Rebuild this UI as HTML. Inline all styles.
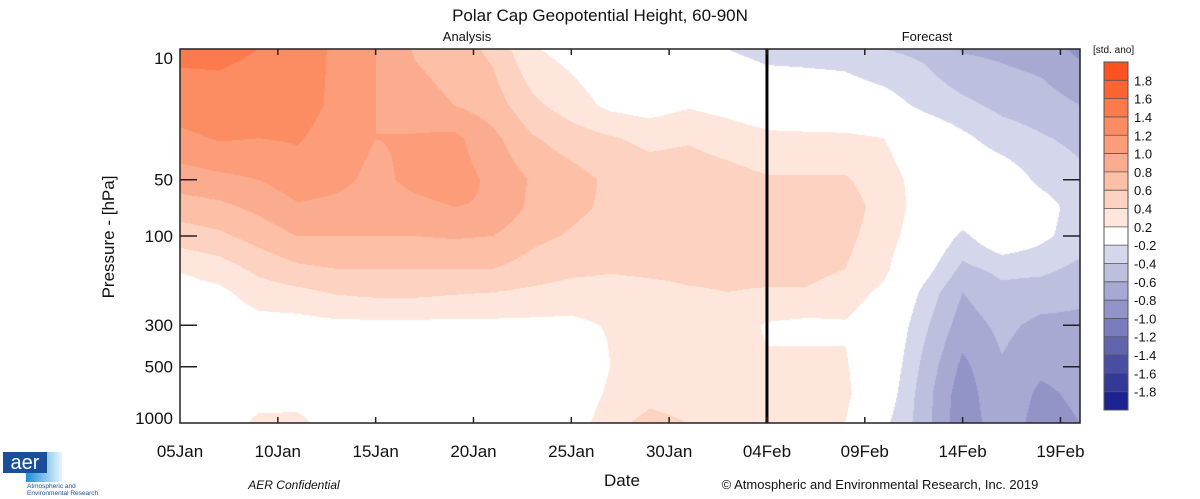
<!DOCTYPE html>
<html><head><meta charset="utf-8">
<style>
body{margin:0;background:#fff;width:1200px;height:499px;overflow:hidden;font-family:"Liberation Sans",sans-serif;}
svg text{font-family:"Liberation Sans",sans-serif;}
</style></head>
<body>
<div style="position:relative;width:1200px;height:499px;">
<canvas id="cv" width="900" height="374" style="position:absolute;left:180px;top:49px;"></canvas>
<svg id="sv" width="1200" height="499" style="position:absolute;left:0;top:0;"></svg>
</div>
<script>
const days=[0,2,4,6,8,10,12,14,16,18,20,22,24,26,28,30,32,34,36,38,40,42,44,46];
const levels=[10,20,30,50,70,100,150,200,300,500,700,1000];
// values[row=level][col=day]
const values=[
[1.45,1.45,1.4,1.35,1.15,1.0,0.78,0.7,0.55,0.22,0.12,0.02,-0.02,-0.05,-0.2,-0.3,-0.3,-0.3,-0.4,-0.45,-0.62,-0.65,-0.7,-0.85],
[1.3,1.32,1.3,1.3,1.15,1.0,0.88,0.8,0.7,0.45,0.3,0.15,0.1,0.18,0.12,0.05,0.0,-0.05,-0.1,-0.25,-0.35,-0.45,-0.5,-0.6],
[1.15,1.22,1.2,1.22,1.1,1.0,1.02,1.05,0.85,0.62,0.5,0.42,0.35,0.38,0.32,0.25,0.25,0.25,0.2,0.0,-0.15,-0.3,-0.38,-0.45],
[0.9,0.95,1.0,1.1,1.05,0.95,1.05,1.1,0.95,0.78,0.68,0.56,0.5,0.5,0.47,0.42,0.42,0.42,0.3,0.1,0.0,-0.05,-0.25,-0.35],
[0.7,0.75,0.85,0.98,0.95,0.9,0.95,1.0,0.98,0.75,0.65,0.56,0.52,0.52,0.5,0.48,0.48,0.48,0.33,0.1,0.0,0.05,-0.1,-0.3],
[0.5,0.56,0.68,0.8,0.8,0.8,0.8,0.82,0.8,0.65,0.58,0.5,0.5,0.52,0.5,0.5,0.5,0.45,0.3,0.05,-0.25,0.0,-0.15,-0.3],
[0.22,0.3,0.45,0.56,0.6,0.6,0.6,0.6,0.6,0.52,0.45,0.42,0.44,0.45,0.45,0.47,0.47,0.4,0.25,-0.1,-0.45,-0.35,-0.35,-0.45],
[0.1,0.15,0.3,0.35,0.42,0.45,0.45,0.42,0.4,0.36,0.32,0.32,0.34,0.38,0.4,0.38,0.38,0.3,0.15,-0.25,-0.6,-0.45,-0.5,-0.55],
[0.05,0.05,0.12,0.12,0.15,0.15,0.15,0.15,0.15,0.15,0.15,0.22,0.3,0.32,0.3,0.18,0.15,0.18,0.05,-0.35,-0.7,-0.55,-0.65,-0.65],
[0.0,0.05,0.05,0.05,0.05,0.05,0.05,0.05,0.05,0.05,-0.05,0.2,0.3,0.3,0.25,0.22,0.25,0.22,0.0,-0.45,-0.85,-0.62,-0.75,-0.7],
[0.0,0.05,0.1,0.12,0.05,0.05,0.05,0.05,0.05,0.0,0.0,0.25,0.35,0.32,0.22,0.28,0.3,0.25,-0.05,-0.5,-0.92,-0.62,-0.85,-0.75],
[0.0,0.05,0.25,0.25,0.1,0.05,0.05,0.05,0.05,0.0,0.05,0.35,0.45,0.4,0.22,0.3,0.3,0.2,-0.15,-0.5,-0.95,-0.65,-0.9,-0.8]
];
const cbLabels=["1.8","1.6","1.4","1.2","1.0","0.8","0.6","0.4","0.2","-0.2","-0.4","-0.6","-0.8","-1.0","-1.2","-1.4","-1.6","-1.8"];
const cbColors=["#fc5220","#fc6433","#fc7a4c","#fc8c62","#fc9c78","#fcac8e","#fdbfa6","#fdd2c0","#fee6dc","#ffffff","#d4d6eb","#bdbfdf","#a7a9d3","#9294c8","#7a7cbb","#6265ae","#4a4ea3","#333997","#1c2290"];
const xLabels=["05Jan","10Jan","15Jan","20Jan","25Jan","30Jan","04Feb","09Feb","14Feb","19Feb"];
const xLabelDays=[0,5,10,15,20,25,30,35,40,45];
const yTicks=[10,50,100,300,500,1000];

const X0=180,X1=1080,Y0=49,Y1=423,DMAX=46;
const xs=d=>X0+(d/DMAX)*(X1-X0);
const ys=p=>Y0+Math.log10(p/10)/2*(Y1-Y0);
function colorFor(v){
  const th=[1.8,1.6,1.4,1.2,1.0,0.8,0.6,0.4,0.2,-0.2,-0.4,-0.6,-0.8,-1.0,-1.2,-1.4,-1.6,-1.8];
  for(let i=0;i<th.length;i++){if(v>=th[i])return cbColors[i];}
  return cbColors[18];
}
function hex(c){return [parseInt(c.substr(1,2),16),parseInt(c.substr(3,2),16),parseInt(c.substr(5,2),16)];}
const cv=document.getElementById('cv');const ctx=cv.getContext('2d');
const W=cv.width,H=cv.height;const img=ctx.createImageData(W,H);
const lp=levels.map(p=>Math.log10(p));
function sample(d,lgp){
  let i=0;while(i<days.length-2&&d>days[i+1])i++;
  let j=0;while(j<lp.length-2&&lgp>lp[j+1])j++;
  const tx=Math.max(0,Math.min(1,(d-days[i])/(days[i+1]-days[i])));
  const ty=Math.max(0,Math.min(1,(lgp-lp[j])/(lp[j+1]-lp[j])));
  const a=values[j][i],b=values[j][i+1],c=values[j+1][i],e=values[j+1][i+1];
  return (a*(1-tx)+b*tx)*(1-ty)+(c*(1-tx)+e*tx)*ty;
}
for(let py=0;py<H;py++){
  const lgp=1+(py+0.5)/H*2;
  for(let px=0;px<W;px++){
    const d=(px+0.5)/W*DMAX;
    const rgb=hex(colorFor(sample(d,lgp)));
    const k=(py*W+px)*4;img.data[k]=rgb[0];img.data[k+1]=rgb[1];img.data[k+2]=rgb[2];img.data[k+3]=255;
  }
}
ctx.putImageData(img,0,0);

const NS='http://www.w3.org/2000/svg';const sv=document.getElementById('sv');
function mk(tag,attrs,txt){const e=document.createElementNS(NS,tag);for(const k in attrs)e.setAttribute(k,attrs[k]);if(txt!==undefined)e.textContent=txt;sv.appendChild(e);return e;}
let t;
t=mk('text',{x:600,y:21,'text-anchor':'middle','font-size':17,fill:'#111'},'Polar Cap Geopotential Height, 60-90N');

t=mk('text',{x:467,y:41,'text-anchor':'middle','font-size':13,fill:'#111'},'Analysis');

t=mk('text',{x:927,y:41,'text-anchor':'middle','font-size':13,fill:'#111'},'Forecast');

t=mk('rect',{x:X0,y:Y0,width:X1-X0,height:Y1-Y0,fill:'none',stroke:'#222','stroke-width':1.5});

t=mk('line',{x1:xs(30),x2:xs(30),y1:Y0,y2:Y1,stroke:'#000','stroke-width':3});

xLabelDays.forEach((d,i)=>{
  const x=xs(d);
  if(d>0){
    t=mk('line',{x1:x,x2:x,y1:Y0,y2:Y0+6,stroke:'#222','stroke-width':1.5});
    
    t=mk('line',{x1:x,x2:x,y1:Y1,y2:Y1-6,stroke:'#222','stroke-width':1.5});
    
  }
  t=mk('text',{x:x,y:457,'text-anchor':'middle','font-size':17,fill:'#111'},xLabels[i]);
  
});
yTicks.forEach(p=>{
  const y=ys(p);
  if(p!==10&&p!==1000){
    t=mk('line',{x1:X0,x2:X0+17,y1:y,y2:y,stroke:'#222','stroke-width':1.5});
    
    t=mk('line',{x1:X1,x2:X1-17,y1:y,y2:y,stroke:'#222','stroke-width':1.5});
    
  }
  const ly=p===10?y+15:(p===1000?y+1:y+6);
  t=mk('text',{x:173,y:ly,'text-anchor':'end','font-size':17,fill:'#111'},String(p));
  
});
t=mk('text',{x:0,y:0,'text-anchor':'middle','font-size':17,fill:'#111',transform:'translate(114,237) rotate(-90)'},'Pressure - [hPa]');

t=mk('text',{x:622,y:486,'text-anchor':'middle','font-size':17,fill:'#111'},'Date');

t=mk('text',{x:294,y:489,'text-anchor':'middle','font-size':12,'font-style':'italic',fill:'#111'},'AER Confidential');

t=mk('text',{x:880,y:489,'text-anchor':'middle','font-size':13,fill:'#111'},'© Atmospheric and Environmental Research, Inc. 2019');

const CBX=1104,CBY=62,CBW=24,CBH=348,bh=CBH/cbColors.length;
cbColors.forEach((c,i)=>{
  t=mk('rect',{x:CBX,y:CBY+i*bh,width:CBW,height:bh+0.3,fill:c});
  
});
cbLabels.forEach((l,i)=>{
  const y=CBY+(i+1)*bh;
  t=mk('line',{x1:CBX,x2:CBX+CBW,y1:y,y2:y,stroke:'#555','stroke-width':0.8});
  
  t=mk('text',{x:1134,y:y+5,'font-size':13,fill:'#111'},l);
  
});
t=mk('rect',{x:CBX,y:CBY,width:CBW,height:CBH,fill:'none',stroke:'#555','stroke-width':1});

t=mk('text',{x:1093,y:53,'font-size':10,fill:'#111'},'[std. ano]');

const defs=mk('defs',{});
const g=document.createElementNS(NS,'linearGradient');g.setAttribute('id','lg');
[['0','#1d8fd8'],['1','#e6f6fb']].forEach(s=>{const st=document.createElementNS(NS,'stop');st.setAttribute('offset',s[0]);st.setAttribute('stop-color',s[1]);g.appendChild(st);});
defs.appendChild(g);
t=mk('rect',{x:26,y:452,width:36,height:30,fill:'url(#lg)'});

t=mk('rect',{x:3,y:452,width:44,height:21,fill:'#1a4e9a'});

t=mk('text',{x:25,y:469,'text-anchor':'middle','font-size':20,fill:'#fff'},'aer');

t=mk('text',{x:27,y:488,'font-size':6.5,fill:'#1a4e9a'},'Atmospheric and');

t=mk('text',{x:27,y:495,'font-size':6.5,fill:'#1a4e9a'},'Environmental Research');

</script>
</body></html>
